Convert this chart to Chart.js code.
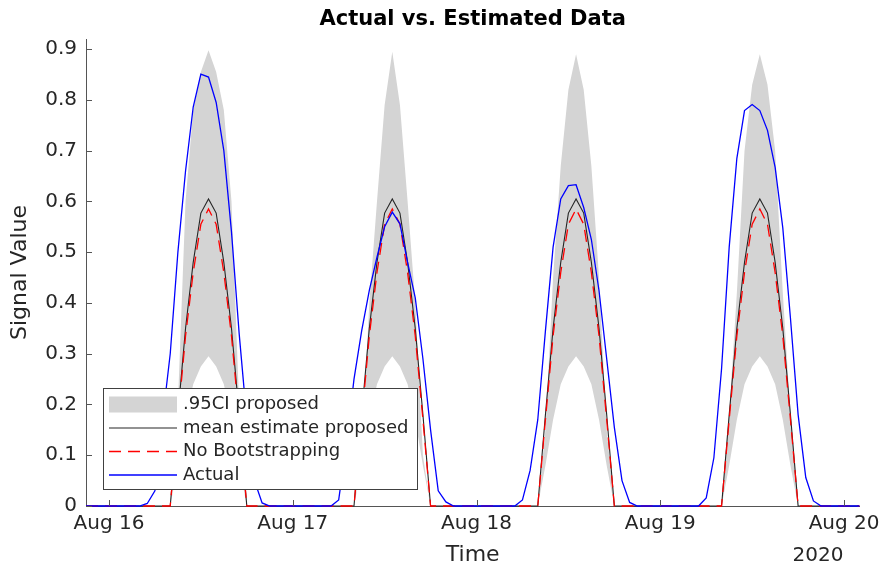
<!DOCTYPE html>
<html>
<head>
<meta charset="utf-8">
<script src="https://cdn.jsdelivr.net/npm/chart.js@4.4.0/dist/chart.umd.min.js"></script>
<style>
html,body{margin:0;padding:0;background:#fff;}
#wrap{width:886px;height:572px;}
</style>
</head>
<body>
<div id="wrap"><canvas id="c" width="886" height="572"></canvas></div>
<script>
// ---------- data (hourly samples) ----------
const chartTitle = 'Actual vs. Estimated Data';
const dayLabels = ['Aug 16', 'Aug 17', 'Aug 18', 'Aug 19', 'Aug 20'];
const dayTickHours = [0, 24, 48, 72, 96];
const yearLabel = '2020';
const yTicks = [0, 0.1, 0.2, 0.3, 0.4, 0.5, 0.6, 0.7, 0.8, 0.9];
const yTickLabels = ['0', '0.1', '0.2', '0.3', '0.4', '0.5', '0.6', '0.7', '0.8', '0.9'];

const aug15Hours = [21, 22, 23];   // hours shown before Aug 16
const aug20Hours = [0, 1, 2];      // hours shown on Aug 20

// Actual signal, hour 0..23 of each day
const actualAug15 = [0, 0, 0];
const actualAug16 = [0,0,0,0,0,0.005,0.03,0.17,0.30,0.50,0.66,0.786,0.851,0.845,0.795,0.70,0.54,0.34,0.17,0.05,0.006,0,0,0];
const actualAug17 = [0,0,0,0,0,0,0.012,0.12,0.25,0.345,0.425,0.49,0.55,0.579,0.556,0.48,0.41,0.29,0.15,0.03,0.008,0,0,0];
const actualAug18 = [0,0,0,0,0,0,0.012,0.07,0.17,0.345,0.51,0.605,0.631,0.633,0.588,0.525,0.424,0.29,0.155,0.05,0.007,0,0,0];
const actualAug19 = [0,0,0,0,0,0,0.016,0.095,0.27,0.51,0.685,0.779,0.791,0.779,0.74,0.667,0.548,0.37,0.18,0.056,0.01,0,0,0];
const actualAug20 = [0, 0, 0];

// Estimates, hour 0..23
const meanProfile    = [0,0,0,0,0,0,0,0,0,0.18,0.35,0.48,0.577,0.605,0.577,0.48,0.35,0.18,0,0,0,0,0,0];
const noBootProfile  = [0,0,0,0,0,0,0,0,0,0.17,0.335,0.46,0.555,0.585,0.555,0.46,0.335,0.17,0,0,0,0,0,0];
const ciLowerProfile = [0,0,0,0,0,0,0,0,0,0.08,0.17,0.24,0.275,0.295,0.275,0.24,0.17,0.08,0,0,0,0,0,0];
const ciUpperAug16   = [0,0,0,0,0,0,0,0,0,0.20,0.60,0.78,0.855,0.898,0.855,0.78,0.60,0.20,0,0,0,0,0,0];
const ciUpperAug17   = [0,0,0,0,0,0,0,0,0,0.10,0.40,0.60,0.79,0.895,0.79,0.60,0.40,0.10,0,0,0,0,0,0];
const ciUpperAug18   = [0,0,0,0,0,0,0,0,0,0.15,0.45,0.67,0.82,0.89,0.82,0.67,0.45,0.15,0,0,0,0,0,0];
const ciUpperAug19   = [0,0,0,0,0,0,0,0,0,0.18,0.42,0.70,0.83,0.89,0.83,0.70,0.42,0.18,0,0,0,0,0,0];
const estimateAug15  = [0, 0, 0];
const estimateAug20  = [0, 0, 0];

// ---------- build series (x = hours since Aug 16 00:00) ----------
function buildSeries(before, days, after) {
  const pts = [];
  aug15Hours.forEach((h, i) => pts.push({x: h - 24, y: before[i]}));
  days.forEach((arr, d) => arr.forEach((v, h) => pts.push({x: d * 24 + h, y: v})));
  aug20Hours.forEach((h, i) => pts.push({x: 96 + h, y: after[i]}));
  return pts;
}
const actualPts = buildSeries(actualAug15, [actualAug16, actualAug17, actualAug18, actualAug19], actualAug20);
const meanPts   = buildSeries(estimateAug15, [meanProfile, meanProfile, meanProfile, meanProfile], estimateAug20);
const noBootPts = buildSeries(estimateAug15, [noBootProfile, noBootProfile, noBootProfile, noBootProfile], estimateAug20);
const lowerPts  = buildSeries(estimateAug15, [ciLowerProfile, ciLowerProfile, ciLowerProfile, ciLowerProfile], estimateAug20);
const upperPts  = buildSeries(estimateAug15, [ciUpperAug16, ciUpperAug17, ciUpperAug18, ciUpperAug19], estimateAug20);

const FONT = 'DejaVu Sans';
const TXT = '#262626';
const AXIS = '#555555';
const CI_GRAY = '#d4d4d4';
const DASH = [12, 7];

const decor = {
  id: 'decor',
  afterDraw(chart) {
    const {ctx, chartArea: a, scales} = chart;
    ctx.save();
    // title centred over the plot area
    ctx.fillStyle = '#000';
    ctx.font = 'bold 21px "' + FONT + '"';
    ctx.textAlign = 'center'; ctx.textBaseline = 'middle';
    ctx.fillText(chartTitle, (a.left + a.right) / 2, 20);
    // inward ticks
    ctx.strokeStyle = AXIS; ctx.lineWidth = 1;
    ctx.beginPath();
    yTicks.forEach(v => {
      const py = Math.round(scales.y.getPixelForValue(v)) + 0.5;
      ctx.moveTo(a.left, py); ctx.lineTo(a.left + 6, py);
    });
    dayTickHours.forEach(v => {
      const px = Math.round(scales.x.getPixelForValue(v)) + 0.5;
      ctx.moveTo(px, a.bottom); ctx.lineTo(px, a.bottom - 6);
    });
    ctx.stroke();
    // year label
    ctx.fillStyle = TXT;
    ctx.font = '20px "' + FONT + '"';
    ctx.textAlign = 'center'; ctx.textBaseline = 'middle';
    ctx.fillText(yearLabel, scales.x.getPixelForValue(96) - 26, 556);
    // legend box
    const bx = a.left + 17, by = a.bottom - 118, bw = 314, bh = 101;
    ctx.fillStyle = '#ffffff';
    ctx.fillRect(bx, by, bw, bh);
    ctx.strokeStyle = '#404040'; ctx.lineWidth = 1;
    ctx.strokeRect(bx + 0.5, by + 0.5, bw, bh);
    const ds = chart.data.datasets;
    const rows = [
      {ds: ds[3], kind: 'patch'},
      {ds: ds[2], kind: 'line'},
      {ds: ds[1], kind: 'line'},
      {ds: ds[0], kind: 'line'}
    ];
    ctx.font = '18px "' + FONT + '"';
    ctx.textAlign = 'left'; ctx.textBaseline = 'middle';
    rows.forEach((r, i) => {
      const cy = by + 16.5 + i * 23.5;
      const x0 = bx + 6, x1 = bx + 74;
      if (r.kind === 'patch') {
        ctx.fillStyle = r.ds.backgroundColor;
        ctx.fillRect(x0, cy - 8, x1 - x0, 16);
      } else {
        ctx.strokeStyle = r.ds.borderColor;
        ctx.lineWidth = r.ds.borderWidth;
        ctx.setLineDash(r.ds.borderDash || []);
        ctx.beginPath(); ctx.moveTo(x0, cy); ctx.lineTo(x1, cy); ctx.stroke();
        ctx.setLineDash([]);
      }
      ctx.fillStyle = TXT;
      ctx.fillText(r.ds.label, bx + 80, cy);
    });
    ctx.restore();
  }
};

new Chart(document.getElementById('c'), {
  type: 'line',
  data: {
    datasets: [
      {label: 'Actual', data: actualPts, borderColor: '#0000ff', borderWidth: 1.3, pointRadius: 0, fill: false, clip: 6},
      {label: 'No Bootstrapping', data: noBootPts, borderColor: '#ff0000', borderWidth: 1.3, borderDash: DASH, pointRadius: 0, fill: false, clip: 6},
      {label: 'mean estimate proposed', data: meanPts, borderColor: '#262626', borderWidth: 1.1, pointRadius: 0, fill: false, clip: 6},
      {label: '.95CI proposed', data: upperPts, borderColor: CI_GRAY, backgroundColor: CI_GRAY, borderWidth: 0, pointRadius: 0,
       fill: {target: 4, above: CI_GRAY, below: CI_GRAY}, clip: 6},
      {label: 'ci lower', data: lowerPts, borderColor: CI_GRAY, borderWidth: 0, pointRadius: 0, fill: false, clip: 6}
    ]
  },
  options: {
    responsive: false,
    animation: false,
    devicePixelRatio: 1,
    parsing: false,
    layout: {padding: {left: 0, right: 26, top: 39, bottom: 0}},
    plugins: {
      legend: {display: false},
      tooltip: {enabled: false},
      filler: {drawTime: 'beforeDatasetsDraw'},
      title: {display: false}
    },
    scales: {
      x: {
        type: 'linear', min: -3, max: 98,
        afterBuildTicks: s => { s.ticks = dayTickHours.map(v => ({value: v})); },
        afterFit: s => { s.height = 66; },
        grid: {display: false, drawTicks: false},
        border: {display: true, color: AXIS, width: 1},
        ticks: {
          autoSkip: false, maxRotation: 0, padding: 6, color: TXT,
          font: {family: FONT, size: 20},
          callback: (v, i) => dayLabels[i]
        },
        title: {display: true, text: 'Time', color: TXT, font: {family: FONT, size: 22}, padding: {top: 0, bottom: 4}}
      },
      y: {
        type: 'linear', min: 0, max: 0.92,
        afterBuildTicks: s => { s.ticks = yTicks.map(v => ({value: v})); },
        afterFit: s => { s.width = 86; },
        grid: {display: false, drawTicks: false},
        border: {display: true, color: AXIS, width: 1},
        ticks: {
          padding: 9, color: TXT,
          font: {family: FONT, size: 20},
          callback: (v, i) => yTickLabels[i]
        },
        title: {display: true, text: 'Signal Value', color: TXT, font: {family: FONT, size: 22}, padding: {top: 7, bottom: 0}}
      }
    }
  },
  plugins: [decor]
});
</script>
</body>
</html>
